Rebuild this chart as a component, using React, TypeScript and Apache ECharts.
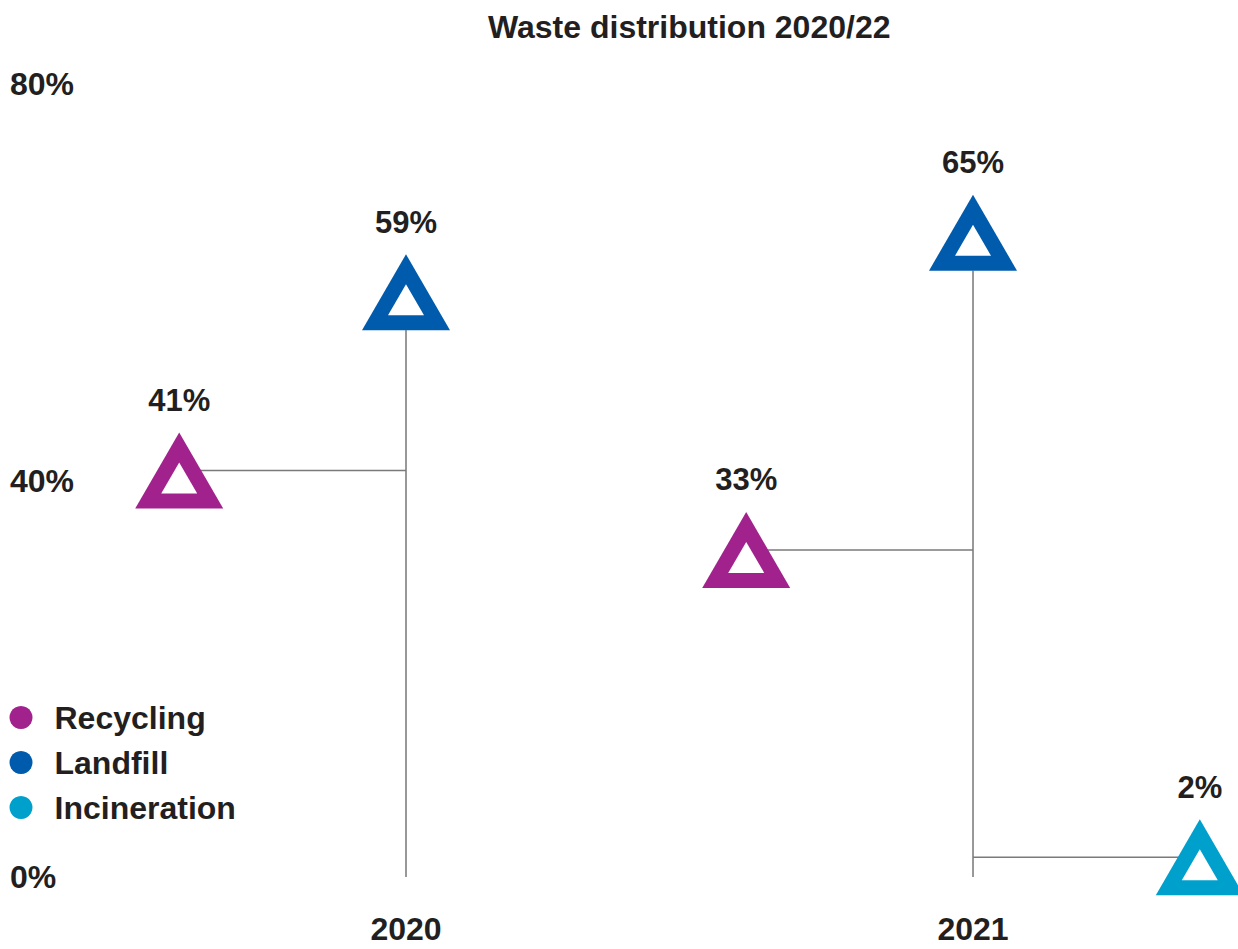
import React, { useEffect, useRef } from "react";
import * as echarts from "echarts";

const title = "Waste distribution 2020/22";
const categories = ["2020", "2021"];
const seriesNames = ["Recycling", "Landfill", "Incineration"];
const recycling: (number | null)[] = [41, 33];
const landfill: (number | null)[] = [59, 65];
const incineration: (number | null)[] = [null, 2];
const yTicks = [0, 40, 80];

const colors = ["#A2228D", "#005BAC", "#00A0CC"];
const textColor = "#231F20";
const fontFamily = "'Liberation Sans', Arial, Helvetica, sans-serif";

const TRI_W = 88;
const TRI_H = 76;

function triangle(cx: number, cy: number, color: string) {
  const top = cy - TRI_H / 2;
  const bottom = cy + TRI_H / 2;
  const centroidY = top + (2 / 3) * TRI_H;
  const iw = 36;
  const ih = 31;
  return [
    {
      type: "polygon",
      shape: {
        points: [
          [cx, top],
          [cx - TRI_W / 2, bottom],
          [cx + TRI_W / 2, bottom],
        ],
      },
      style: { fill: color },
    },
    {
      type: "polygon",
      shape: {
        points: [
          [cx, centroidY - (2 / 3) * ih],
          [cx - iw / 2, centroidY + ih / 3],
          [cx + iw / 2, centroidY + ih / 3],
        ],
      },
      style: { fill: "#ffffff" },
    },
  ];
}

function makeSeries(name: string, values: (number | null)[], color: string, offset: number, kind: "h" | "v") {
  const data = values
    .map((v, i) => (v == null ? null : [i, v]))
    .filter((d) => d != null);
  return {
    type: "custom",
    name,
    itemStyle: { color },
    data,
    clip: false,
    renderItem: (params: any, api: any) => {
      const idx = api.value(0);
      const val = api.value(1);
      const base = api.coord([idx, 0]);
      const pt = api.coord([idx, val]);
      const band = api.size([1, 0])[0];
      const cx = pt[0] + offset * band;
      const cy = pt[1];
      const children: any[] = [];
      if (kind === "v") {
        children.push({
          type: "line",
          shape: { x1: base[0], y1: base[1], x2: cx, y2: cy + TRI_H / 2 },
          style: { stroke: "#333333", lineWidth: 1 },
        });
      } else {
        children.push({
          type: "line",
          shape: { x1: cx, y1: cy, x2: pt[0], y2: cy },
          style: { stroke: "#7a7a7a", lineWidth: 1.5 },
        });
      }
      children.push(...triangle(cx, cy, color));
      children.push({
        type: "text",
        x: cx,
        y: cy - 70,
        style: {
          text: `${val}%`,
          fill: textColor,
          fontSize: 31,
          fontWeight: "bold",
          fontFamily,
          align: "center",
          verticalAlign: "middle",
        },
      });
      return { type: "group", children };
    },
  };
}

export default function App() {
  const ref = useRef<HTMLDivElement>(null);
  useEffect(() => {
    if (!ref.current) return;
    const chart = echarts.init(ref.current, undefined, { renderer: "svg" });
    chart.setOption({
      animation: false,
      backgroundColor: "#ffffff",
      title: {
        text: title,
        left: 488,
        top: 11,
        padding: 0,
        textStyle: { fontSize: 32, fontWeight: "bold", color: textColor, fontFamily },
      },
      legend: {
        data: seriesNames.map((n, i) => ({ name: n, icon: "circle", itemStyle: { color: colors[i] } })),
        orient: "vertical",
        left: 9.5,
        top: 701.5,
        padding: 0,
        itemWidth: 23,
        itemHeight: 23,
        itemGap: 13,
        selectedMode: false,
        textStyle: {
          fontSize: 32,
          fontWeight: "bold",
          color: textColor,
          fontFamily,
          padding: [0, 0, 0, 17],
        },
      },
      grid: { left: 122.5, width: 1134, top: 84, bottom: 72 },
      xAxis: {
        type: "category",
        data: categories,
        boundaryGap: true,
        axisLine: { show: false },
        axisTick: { show: false },
        axisLabel: {
          margin: 40,
          fontSize: 32,
          fontWeight: "bold",
          color: textColor,
          fontFamily,
          lineHeight: 24,
        },
      },
      yAxis: {
        type: "value",
        min: yTicks[0],
        max: yTicks[yTicks.length - 1],
        interval: yTicks[1] - yTicks[0],
        splitLine: { show: false },
        axisLine: { show: false },
        axisTick: { show: false },
        axisLabel: {
          formatter: "{value}%",
          align: "left",
          margin: 112.5,
          fontSize: 32,
          fontWeight: "bold",
          color: textColor,
          fontFamily,
        },
      },
      series: [
        makeSeries(seriesNames[1], landfill, colors[1], 0, "v"),
        makeSeries(seriesNames[0], recycling, colors[0], -0.4, "h"),
        makeSeries(seriesNames[2], incineration, colors[2], 0.4, "h"),
      ],
    });
    return () => chart.dispose();
  }, []);
  return (
    <div
      style={{
        position: "absolute",
        left: 0,
        top: 0,
        width: 1238,
        height: 949,
        overflow: "hidden",
        background: "#ffffff",
      }}
    >
      <div ref={ref} style={{ width: 1262, height: 949 }} />
    </div>
  );
}
